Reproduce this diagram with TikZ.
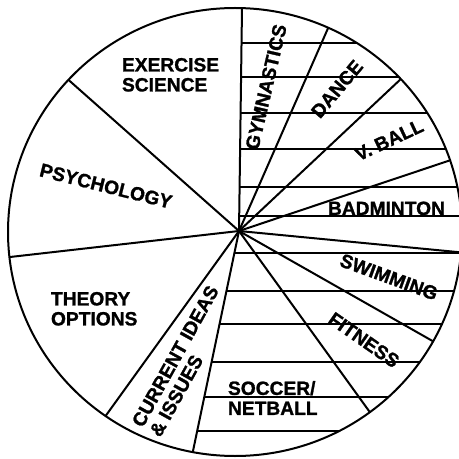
\documentclass[tikz,border=0pt]{standalone}
\usepackage{fontspec}
\setmainfont{Liberation Sans}[BoldFeatures={FakeBold=1.2}]
\usetikzlibrary{calc}
\begin{document}
\begin{tikzpicture}[x=0.75pt,y=-0.75pt,line width=1.5pt,
  lbl/.style={font=\bfseries\fontsize{14.4}{15}\selectfont,inner sep=0pt,align=left},
  hatch/.style={line width=1.4pt}]
\useasboundingbox (0,0) rectangle (458,459);
\coordinate (hub) at (239,231);
\coordinate (ctr) at (235,232);
% spoke end points
\coordinate (p1) at (242,8);
\coordinate (p2) at (329,26);
\coordinate (p3) at (403,77);
\coordinate (p4) at (451,160);
\coordinate (p5) at (457,252);
\coordinate (p6) at (429,339);
\coordinate (p7) at (369,411);
\coordinate (p8) at (193,451);
\coordinate (p9) at (107,414);
\coordinate (p10) at (10,257);
\coordinate (p11) at (72,83);
\begin{scope}
  \clip (ctr) ellipse [x radius=227, y radius=224];
  \foreach \i in {1,...,11} \draw (hub) -- ($(hub)!1.3!(p\i)$);
  % upper hatch lines (start at vertical spoke)
  \foreach \y in {43,77,113,149,187,216}
    \draw[hatch] ($(hub)!{(231-\y)/223}!(p1)$) -- (480,\y);
  % lower hatch lines (start at spoke to p8)
  \foreach \y in {253,291,324,362,397,431}
    \draw[hatch] ($(hub)!{(\y-231)/220}!(p8)$) -- (480,\y);
\end{scope}
\draw (ctr) ellipse [x radius=227, y radius=224];
% labels
\node[lbl,anchor=north west] (ex) at (121,57) {EXERCISE\\SCIENCE};
\node[lbl,rotate=-14] (psy) at (106,186) {PSYCHOLOGY};
\node[lbl,anchor=north west] (th) at (50,291) {THEORY\\OPTIONS};
\node[lbl,rotate=61] (cur) at (184,361) {CURRENT IDEAS\\\& ISSUES};
\node[lbl,anchor=north west] (soc) at (227,380) {SOCCER/\\NETBALL};
\node[lbl,rotate=-35] (fit) at (364,340) {FITNESS};
\node[lbl,rotate=-20] (swi) at (389,277) {SWIMMING};
\node[lbl,anchor=base west] (bad) at (327,215) {BADMINTON};
\node[lbl,rotate=25] (vb) at (389,140) {V. BALL};
\node[lbl,rotate=50] (dan) at (337,89) {DANCE};
\node[lbl,rotate=77] (gym) at (266,87) {GYMNASTICS};
\end{tikzpicture}
\end{document}
